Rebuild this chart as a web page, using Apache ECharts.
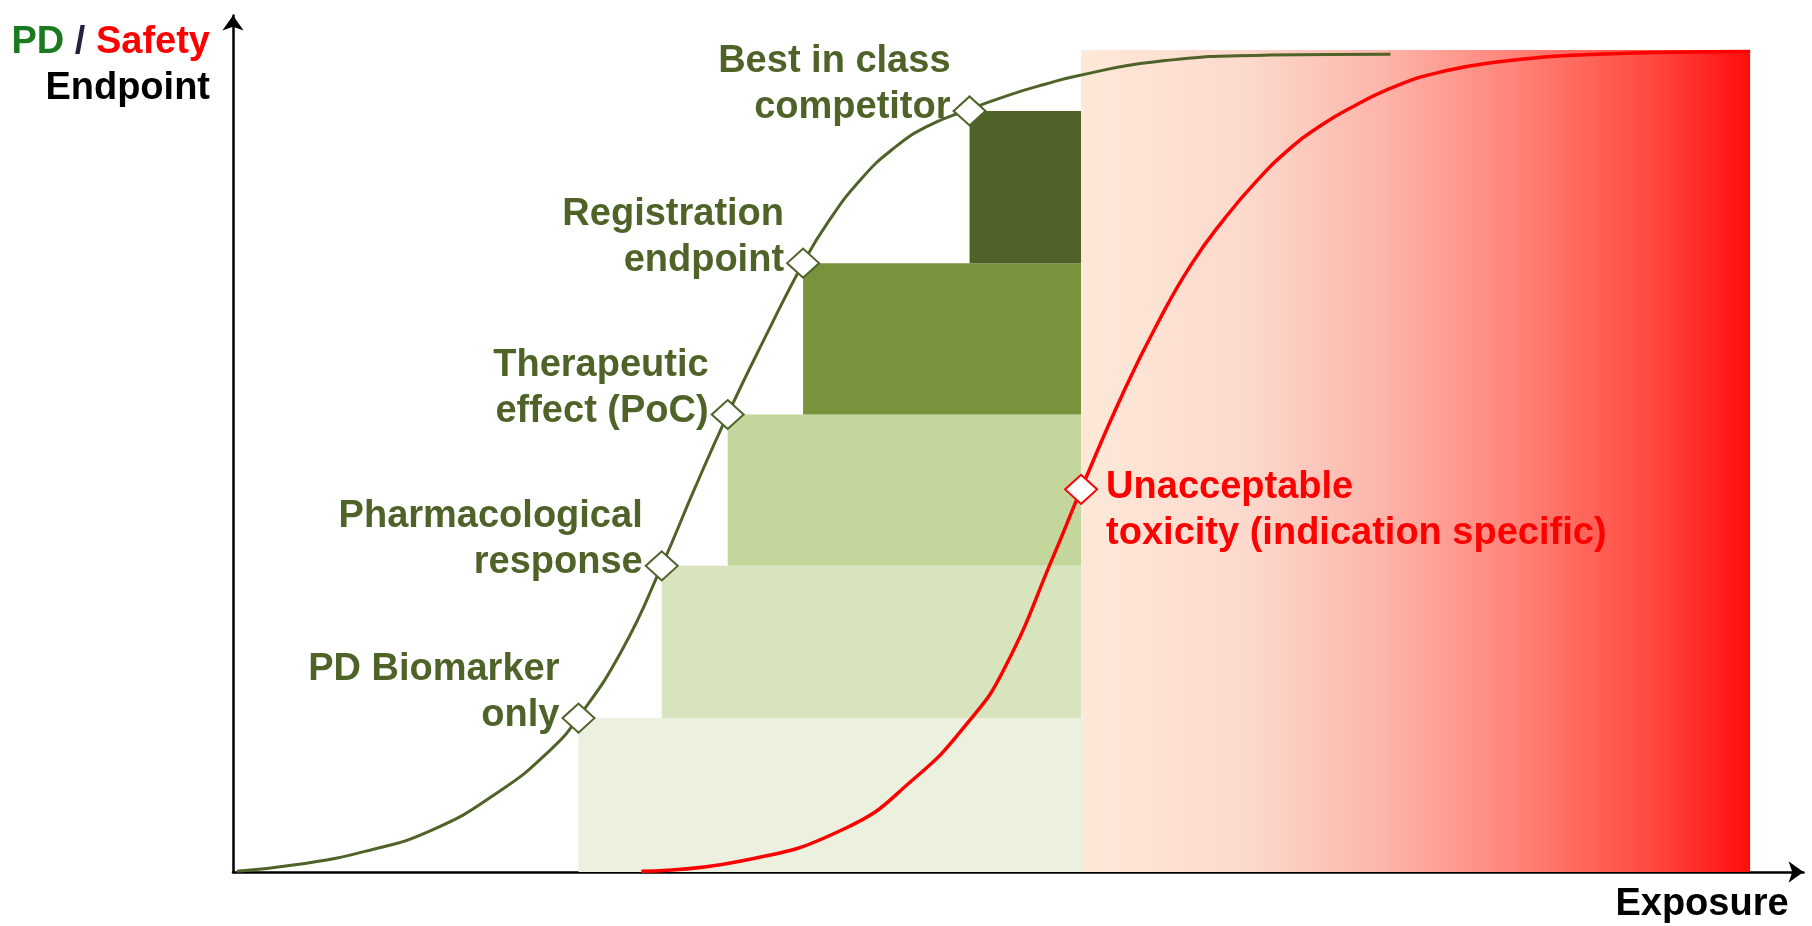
<!DOCTYPE html>
<html lang="en">
<head>
    <meta charset="UTF-8">
    <title>PD / Safety vs Exposure</title>
    <style>
        html, body {margin: 0; padding: 0; background: #fff;}
        #main {width: 1812px; height: 926px;}
    </style>
</head>
<body>
<div id="main"></div>

<script src="https://cdn.jsdelivr.net/npm/echarts@6.0.0/dist/echarts.min.js"></script>
<script>
    // PD curve (green)
    const pdCurveX  = [0.25, 4.2, 8.4, 12.7, 16.9, 20.1, 22.0, 24.8, 27.3, 29.4, 31.5, 34.0, 36.3, 37.9, 40.0, 42.1, 44.2, 46.9, 49.5, 51.7, 53.8, 58.6, 66.0, 73.7];
    const pdCurveY  = [0.1, 0.9, 2.4, 4.9, 9.3, 14.0, 18.0, 25.9, 35.6, 44.6, 53.2, 62.6, 70.8, 75.6, 80.6, 84.2, 86.7, 88.7, 90.4, 91.6, 92.6, 94.2, 95.0, 95.1];
    // safety curve (red)
    const toxCurveX = [26.0, 32.1, 38.9, 43.4, 46.8, 49.1, 52.3, 54.0, 56.8, 58.9, 61.0, 63.1, 65.2, 67.4, 69.1, 71.0, 74.2, 77.3, 80.5, 83.7, 86.9, 91.1, 96.6];
    const toxCurveY = [0.1, 1.2, 5.0, 10.9, 17.4, 23.6, 37.0, 44.5, 56.2, 63.9, 70.6, 75.9, 80.4, 84.3, 86.6, 88.7, 91.5, 93.2, 94.2, 94.8, 95.1, 95.3, 95.4];

    // endpoint steps
    const stepNames = ['PD Biomarker\nonly', 'Pharmacological\nresponse', 'Therapeutic\neffect (PoC)', 'Registration\nendpoint', 'Best in class\ncompetitor'];
    const stepX     = [22.0, 27.3, 31.5, 36.3, 46.9];
    const stepY     = [17.9, 35.6, 53.2, 70.8, 88.5];
    const stepEndX  = 54.0;

    // unacceptable toxicity zone
    const toxZoneX   = [54.0, 96.6];
    const toxZoneTop = 95.6;
    const toxPoint   = [54.0, 44.5];
    const toxLabel   = 'Unacceptable\ntoxicity (indication specific)';

    const stepColors = ['#EBF1DE', '#D7E4BD', '#C3D69B', '#77933C', '#4F6228'];
    const olive      = '#4F6228';
    const fontFam    = '"Liberation Sans", Arial, sans-serif';

    let chart = echarts.init(document.getElementById('main'), null, {renderer: 'canvas'});

    let axisLine = {
        show      : true,
        symbol    : ['none', 'arrow'],
        symbolSize: [16, 15],
        lineStyle : {color: '#000', width: 2.5}
    };

    let option = {
        animation: false,
        grid     : {left: 233, right: 8.5, top: 15.5, bottom: 54},
        xAxis    : {
            type     : 'value', min: 0, max: 100,
            axisLine : axisLine,
            axisTick : {show: false},
            axisLabel: {show: false},
            splitLine: {show: false}
        },
        yAxis    : {
            type     : 'value', min: 0, max: 99.6,
            axisLine : axisLine,
            axisTick : {show: false},
            axisLabel: {show: false},
            splitLine: {show: false}
        },
        graphic  : [
            {
                type : 'text', x: 210, y: 43,
                style: {
                    text         : '{pd|PD}{sl| / }{sf|Safety}',
                    align        : 'right',
                    verticalAlign: 'middle',
                    rich         : {
                        pd: {fill: '#1B7A1F', font: 'bold 38px ' + fontFam},
                        sl: {fill: '#1F2340', font: 'bold 38px ' + fontFam},
                        sf: {fill: '#FF0000', font: 'bold 38px ' + fontFam}
                    }
                }
            },
            {
                type : 'text', x: 210, y: 89,
                style: {text: 'Endpoint', align: 'right', verticalAlign: 'middle', fill: '#000', font: 'bold 38px ' + fontFam}
            },
            {
                type : 'text', x: 1702, y: 905,
                style: {text: 'Exposure', align: 'center', verticalAlign: 'middle', fill: '#000', font: 'bold 38px ' + fontFam}
            }
        ],
        series   : [
            {
                type      : 'custom',
                silent    : true,
                data      : stepX.map((x, i) => [x, i === 0 ? 0 : stepY[i - 1], stepY[i], i]),
                encode    : {x: 0, y: 2},
                renderItem: function (params, api) {
                    let p0 = api.coord([api.value(0), api.value(2)]);
                    let p1 = api.coord([stepEndX, api.value(1)]);
                    return {
                        type : 'rect',
                        shape: {x: p0[0], y: p0[1], width: p1[0] - p0[0], height: p1[1] - p0[1]},
                        style: {fill: stepColors[api.value(3)]}
                    };
                }
            },
            {
                type      : 'custom',
                silent    : true,
                data      : [[toxZoneX[0], toxZoneX[1], toxZoneTop]],
                encode    : {x: [0, 1], y: 2},
                renderItem: function (params, api) {
                    let p0 = api.coord([api.value(0), api.value(2)]);
                    let p1 = api.coord([api.value(1), 0]);
                    return {
                        type : 'rect',
                        shape: {x: p0[0], y: p0[1], width: p1[0] - p0[0], height: p1[1] - p0[1]},
                        style: {
                            fill: new echarts.graphic.LinearGradient(0, 0, 1, 0, [
                                {offset: 0, color: '#FDE9D9'},
                                {offset: 0.25, color: '#FCD9CC'},
                                {offset: 0.45, color: '#FDB5AA'},
                                {offset: 0.65, color: '#FF8378'},
                                {offset: 0.85, color: '#FF4A40'},
                                {offset: 1, color: '#FF0D0D'}
                            ])
                        }
                    };
                }
            },
            {
                type      : 'line',
                silent    : true,
                showSymbol: false,
                smooth    : 0.5,
                data      : pdCurveX.map((x, i) => [x, pdCurveY[i]]),
                lineStyle : {color: olive, width: 3}
            },
            {
                type      : 'line',
                silent    : true,
                showSymbol: false,
                smooth    : 0.5,
                data      : toxCurveX.map((x, i) => [x, toxCurveY[i]]),
                lineStyle : {color: '#FF0000', width: 3.5}
            },
            {
                type      : 'scatter',
                z         : 5,
                symbol    : 'diamond',
                symbolSize: [32, 29],
                itemStyle : {color: '#fff', borderColor: olive, borderWidth: 2, opacity: 1},
                label     : {
                    show      : true,
                    position  : 'left',
                    distance  : 2,
                    offset    : [0, -26],
                    align     : 'right',
                    formatter : '{b}',
                    color     : olive,
                    fontFamily: fontFam,
                    fontWeight: 'bold',
                    fontSize  : 38,
                    lineHeight: 46
                },
                data      : stepX.map((x, i) => ({name: stepNames[i], value: [x, stepY[i]]}))
            },
            {
                type      : 'scatter',
                z         : 5,
                symbol    : 'diamond',
                symbolSize: [32, 29],
                itemStyle : {color: '#fff', borderColor: '#FF0000', borderWidth: 2, opacity: 1},
                label     : {
                    show      : true,
                    position  : 'right',
                    distance  : 8,
                    offset    : [0, 21],
                    align     : 'left',
                    formatter : '{b}',
                    color     : '#FF0000',
                    fontFamily: fontFam,
                    fontWeight: 'bold',
                    fontSize  : 38,
                    lineHeight: 46
                },
                data      : [{name: toxLabel, value: toxPoint}]
            }
        ]
    };

    chart.setOption(option);
</script>
</body>
</html>
